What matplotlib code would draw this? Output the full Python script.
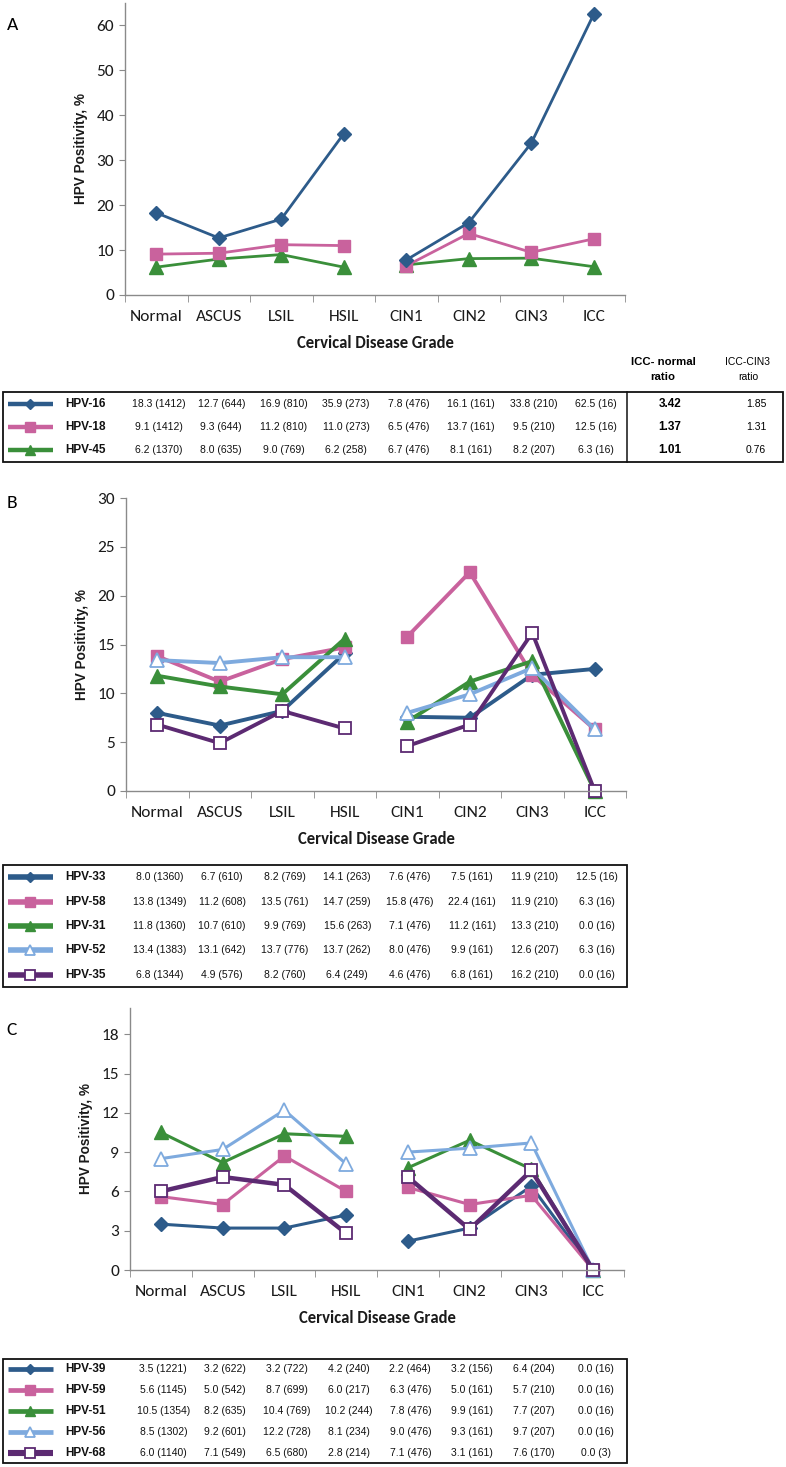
import numpy as np
import matplotlib
matplotlib.use("Agg")
import matplotlib.pyplot as plt
from matplotlib import font_manager
from matplotlib.transforms import blended_transform_factory
from matplotlib.patches import Rectangle
from matplotlib.lines import Line2D

# ---------------- data ----------------
categories = ["Normal", "ASCUS", "LSIL", "HSIL", "CIN1", "CIN2", "CIN3", "ICC"]

# Panel A
a_names = ["HPV-16", "HPV-18", "HPV-45"]
hpv16 = [18.3, 12.7, 16.9, 35.9, 7.8, 16.1, 33.8, 62.5]
hpv16_n = [1412, 644, 810, 273, 476, 161, 210, 16]
hpv18 = [9.1, 9.3, 11.2, 11.0, 6.5, 13.7, 9.5, 12.5]
hpv18_n = [1412, 644, 810, 273, 476, 161, 210, 16]
hpv45 = [6.2, 8.0, 9.0, 6.2, 6.7, 8.1, 8.2, 6.3]
hpv45_n = [1370, 635, 769, 258, 476, 161, 207, 16]
icc_normal_ratio = ["3.42", "1.37", "1.01"]
icc_cin3_ratio = ["1.85", "1.31", "0.76"]

# Panel B
b_names = ["HPV-33", "HPV-58", "HPV-31", "HPV-52", "HPV-35"]
hpv33 = [8.0, 6.7, 8.2, 14.1, 7.6, 7.5, 11.9, 12.5]
hpv33_n = [1360, 610, 769, 263, 476, 161, 210, 16]
hpv58 = [13.8, 11.2, 13.5, 14.7, 15.8, 22.4, 11.9, 6.3]
hpv58_n = [1349, 608, 761, 259, 476, 161, 210, 16]
hpv31 = [11.8, 10.7, 9.9, 15.6, 7.1, 11.2, 13.3, 0.0]
hpv31_n = [1360, 610, 769, 263, 476, 161, 210, 16]
hpv52 = [13.4, 13.1, 13.7, 13.7, 8.0, 9.9, 12.6, 6.3]
hpv52_n = [1383, 642, 776, 262, 476, 161, 207, 16]
hpv35 = [6.8, 4.9, 8.2, 6.4, 4.6, 6.8, 16.2, 0.0]
hpv35_n = [1344, 576, 760, 249, 476, 161, 210, 16]

# Panel C
c_names = ["HPV-39", "HPV-59", "HPV-51", "HPV-56", "HPV-68"]
hpv39 = [3.5, 3.2, 3.2, 4.2, 2.2, 3.2, 6.4, 0.0]
hpv39_n = [1221, 622, 722, 240, 464, 156, 204, 16]
hpv59 = [5.6, 5.0, 8.7, 6.0, 6.3, 5.0, 5.7, 0.0]
hpv59_n = [1145, 542, 699, 217, 476, 161, 210, 16]
hpv51 = [10.5, 8.2, 10.4, 10.2, 7.8, 9.9, 7.7, 0.0]
hpv51_n = [1354, 635, 769, 244, 476, 161, 207, 16]
hpv56 = [8.5, 9.2, 12.2, 8.1, 9.0, 9.3, 9.7, 0.0]
hpv56_n = [1302, 601, 728, 234, 476, 161, 207, 16]
hpv68 = [6.0, 7.1, 6.5, 2.8, 7.1, 3.1, 7.6, 0.0]
hpv68_n = [1140, 549, 680, 214, 476, 161, 170, 3]

# ---------------- styles ----------------
DBLUE = "#2d5b8a"
PINK = "#c9629d"
GREEN = "#3a8f3a"
LBLUE = "#7eaade"
PURPLE = "#5c2a72"
AXCOL = "#8a8a8a"

avail = {f.name for f in font_manager.fontManager.ttflist}
TICKFONT = ["Carlito", "Lato", "DejaVu Sans"]
TICKFONT = [f for f in TICKFONT if f in avail] or ["DejaVu Sans"]
if "Liberation Sans Narrow" in avail:
    NARROW, NSIZE = ["Liberation Sans Narrow"], 8.4
else:
    NARROW, NSIZE = ["Liberation Sans", "DejaVu Sans"], 7.5
ARIAL = ["Liberation Sans", "DejaVu Sans"]

W, H = 786, 1467
fig = plt.figure(figsize=(W / 100, H / 100), dpi=100)
fig.patch.set_facecolor("white")


def fx(px):
    return px / W


def fy(py):
    return 1 - py / H


def make_axes(left, right, top, bottom, ymax, yticks):
    ax = fig.add_axes([fx(left), fy(bottom), fx(right - left), (bottom - top) / H])
    ax.set_xlim(-0.5, 7.5)
    ax.set_ylim(0, ymax)
    for s in ["top", "right"]:
        ax.spines[s].set_visible(False)
    for s in ["left", "bottom"]:
        ax.spines[s].set_color(AXCOL)
        ax.spines[s].set_linewidth(1.0)
    ax.set_xticks(range(len(categories)))
    ax.set_xticklabels(categories, fontfamily=TICKFONT, fontsize=12.5, color="#1a1a1a")
    ax.tick_params(axis="x", which="major", length=0, pad=11)
    ax.set_xticks(np.arange(-0.5, 8.0, 1.0), minor=True)
    ax.tick_params(axis="x", which="minor", length=5, color=AXCOL, direction="out")
    ax.set_yticks(yticks)
    ax.set_yticklabels([str(t) for t in yticks], fontfamily=TICKFONT, fontsize=12.5, color="#1a1a1a")
    ax.tick_params(axis="y", length=4, color=AXCOL, direction="out", pad=4)
    ax.set_xlabel("Cervical Disease Grade", fontfamily=TICKFONT, fontsize=12,
                  fontweight="bold", labelpad=8, color="#1a1a1a")
    ax.set_ylabel("HPV Positivity, %", fontfamily=ARIAL, fontsize=9.8,
                  fontweight="bold", color="#1a1a1a", labelpad=6)
    return ax


def plot_series(ax, vals, style):
    x = np.arange(len(vals))
    v = np.array(vals)
    for seg in (slice(0, 4), slice(4, 8)):
        ax.plot(x[seg], v[seg], **style, clip_on=False)


def legend_sample(y, style):
    ln = Line2D([fx(8), fx(53)], [fy(y), fy(y)], transform=fig.transFigure,
                color=style["color"], lw=style.get("lw", 2) + 1.2, solid_capstyle="butt")
    fig.add_artist(ln)
    mk = Line2D([fx(30)], [fy(y)], transform=fig.transFigure, marker=style["marker"],
                markersize=style["markersize"] - 2.0, color=style["color"],
                markerfacecolor=style.get("markerfacecolor", style["color"]),
                markeredgecolor=style.get("markeredgecolor", style["color"]),
                markeredgewidth=style.get("markeredgewidth", 1), lw=0)
    fig.add_artist(mk)


def draw_table(ax, top, bottom, right, names, series, ns, styles):
    fig.add_artist(Rectangle((fx(3), fy(bottom)), fx(right - 3), (bottom - top) / H,
                             transform=fig.transFigure, fill=False, lw=1.3, ec="#111111"))
    nrow = len(names)
    rh = (bottom - top) / nrow
    tr = blended_transform_factory(ax.transData, fig.transFigure)
    for i in range(nrow):
        yc = top + rh * (i + 0.5)
        legend_sample(yc, styles[i])
        fig.text(fx(65), fy(yc), names[i], fontfamily=ARIAL, fontsize=8.5,
                 fontweight="bold", ha="left", va="center", color="#111111")
        for j in range(len(categories)):
            t = ax.text(j + 0.04, fy(yc), f"{series[i][j]:.1f} ({ns[i][j]})", transform=tr,
                        fontfamily=NARROW, fontsize=NSIZE, ha="center", va="center",
                        color="#111111")
            t.set_clip_on(False)


# ---------------- Panel A ----------------
axA = make_axes(125, 625, 3, 295, 65, [0, 10, 20, 30, 40, 50, 60])
stA = [
    dict(color=DBLUE, lw=2.0, marker="D", markersize=7.5),
    dict(color=PINK, lw=2.0, marker="s", markersize=8.5),
    dict(color=GREEN, lw=2.0, marker="^", markersize=9.5),
]
dataA = [hpv16, hpv18, hpv45]
nA = [hpv16_n, hpv18_n, hpv45_n]
for d, s in zip(dataA[::-1], stA[::-1]):
    plot_series(axA, d, s)
fig.text(fx(13), fy(25), "A", fontfamily=TICKFONT, fontsize=14, ha="center", va="center")

draw_table(axA, 392, 462, 783, a_names, dataA, nA, stA)
fig.add_artist(Line2D([fx(627), fx(627)], [fy(392), fy(462)], transform=fig.transFigure,
                      color="#111111", lw=1.1))
fig.text(fx(663), fy(362), "ICC- normal", fontfamily=ARIAL, fontsize=8.2, fontweight="bold",
         ha="center", va="center")
fig.text(fx(663), fy(377), "ratio", fontfamily=ARIAL, fontsize=8.2, fontweight="bold",
         ha="center", va="center")
fig.text(fx(748), fy(362), "ICC-CIN3", fontfamily=NARROW, fontsize=NSIZE, ha="center", va="center")
fig.text(fx(748), fy(377), "ratio", fontfamily=NARROW, fontsize=NSIZE, ha="center", va="center")
for i in range(3):
    yc = 392 + (70 / 3) * (i + 0.5)
    fig.text(fx(670), fy(yc), icc_normal_ratio[i], fontfamily=ARIAL, fontsize=8.5,
             fontweight="bold", ha="center", va="center")
    fig.text(fx(756), fy(yc), icc_cin3_ratio[i], fontfamily=NARROW, fontsize=NSIZE,
             ha="center", va="center")

# ---------------- Panel B ----------------
axB = make_axes(126, 626, 498, 791, 30, [0, 5, 10, 15, 20, 25, 30])
stB = [
    dict(color=DBLUE, lw=2.8, marker="D", markersize=7.5),
    dict(color=PINK, lw=2.8, marker="s", markersize=8.5),
    dict(color=GREEN, lw=2.8, marker="^", markersize=9.5),
    dict(color=LBLUE, lw=2.8, marker="^", markersize=9.5, markerfacecolor="white",
         markeredgecolor=LBLUE, markeredgewidth=1.3),
    dict(color=PURPLE, lw=2.8, marker="s", markersize=8.5, markerfacecolor="white",
         markeredgecolor=PURPLE, markeredgewidth=1.3),
]
dataB = [hpv33, hpv58, hpv31, hpv52, hpv35]
nB = [hpv33_n, hpv58_n, hpv31_n, hpv52_n, hpv35_n]
for d, s in zip(dataB, stB):
    plot_series(axB, d, s)
fig.text(fx(12), fy(503), "B", fontfamily=TICKFONT, fontsize=14, ha="center", va="center")
draw_table(axB, 865, 987, 627, b_names, dataB, nB, stB)

# ---------------- Panel C ----------------
axC = make_axes(130, 624, 1008, 1270, 20, [0, 3, 6, 9, 12, 15, 18])
stC = [
    dict(color=DBLUE, lw=2.2, marker="D", markersize=7.5),
    dict(color=PINK, lw=2.2, marker="s", markersize=8.5),
    dict(color=GREEN, lw=2.2, marker="^", markersize=9.5),
    dict(color=LBLUE, lw=2.2, marker="^", markersize=9.5, markerfacecolor="white",
         markeredgecolor=LBLUE, markeredgewidth=1.3),
    dict(color=PURPLE, lw=3.2, marker="s", markersize=8.5, markerfacecolor="white",
         markeredgecolor=PURPLE, markeredgewidth=1.3),
]
dataC = [hpv39, hpv59, hpv51, hpv56, hpv68]
nC = [hpv39_n, hpv59_n, hpv51_n, hpv56_n, hpv68_n]
for d, s in zip(dataC, stC):
    plot_series(axC, d, s)
fig.text(fx(12), fy(1030), "C", fontfamily=TICKFONT, fontsize=14, ha="center", va="center")
draw_table(axC, 1359, 1463, 627, c_names, dataC, nC, stC)

fig.savefig("out.png", dpi=100, facecolor="white")
